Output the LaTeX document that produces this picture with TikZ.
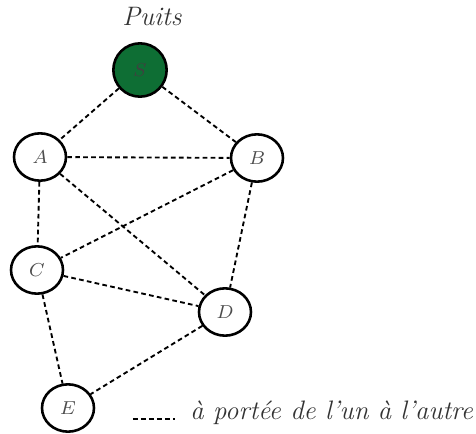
\documentclass[tikz,border=0pt]{standalone}
\usepackage{amsmath, amssymb}
\usetikzlibrary{
  shapes.geometric,
  positioning
}
\definecolor{sinkgreen}{RGB}{14,110,52}
\tikzset{
  % Sensor node
  sensornode/.style={
    ellipse, draw=black, fill=white, line width=1.1pt,
    minimum width=0.78cm, minimum height=0.71cm, inner sep=0pt,
    font=\fontsize{8.5}{10}\selectfont, text=black!70
  },
  % Sink node
  sinknode/.style={
    circle, draw=black, fill=sinkgreen, line width=1.1pt,
    minimum size=0.80cm, inner sep=0pt,
    font=\fontsize{8.5}{10}\selectfont, text=black!75
  },
  % Radio link
  linkline/.style={
    dash pattern=on 2pt off 1.4pt, line width=0.8pt, black
  },
  % Caption text
  captext/.style={
    font=\fontsize{11.4}{13}\selectfont\itshape, text=black!80
  },
}
\begin{document}
\begin{tikzpicture}[x=0.015cm, y=-0.015cm]

\useasboundingbox (0,0) rectangle (476,434);

% ── Sink ──────────────────────────────────────────────────────────────────────
\node[sinknode] (S) at (140,70) {$S$};
\node[captext] (puits) at (152,17) {Puits};

% ── Sensor nodes ──────────────────────────────────────────────────────────────
\node[sensornode] (A) at (40,157)  {$A$};
\node[sensornode] (B) at (257,158) {$B$};
\node[sensornode] (C) at (37,270)  {$C$};
\node[sensornode] (D) at (225,312) {$D$};
\node[sensornode] (E) at (68,408)  {$E$};

% ── Links ─────────────────────────────────────────────────────────────────────
\foreach \u/\v in {S/A, S/B, A/B, A/C, A/D, B/C, B/D, C/D, C/E, D/E}{
  \draw[linkline] (\u) -- (\v);
}

% ── Legend ────────────────────────────────────────────────────────────────────
\coordinate (legstart) at (133,419);
\coordinate (legend) at (175,419);
\draw[linkline] (legstart) -- (legend);
\node[captext, anchor=west, inner sep=0pt]
  (legtext) at (190,413) {à portée de l'un à l'autre};

\end{tikzpicture}
\end{document}
